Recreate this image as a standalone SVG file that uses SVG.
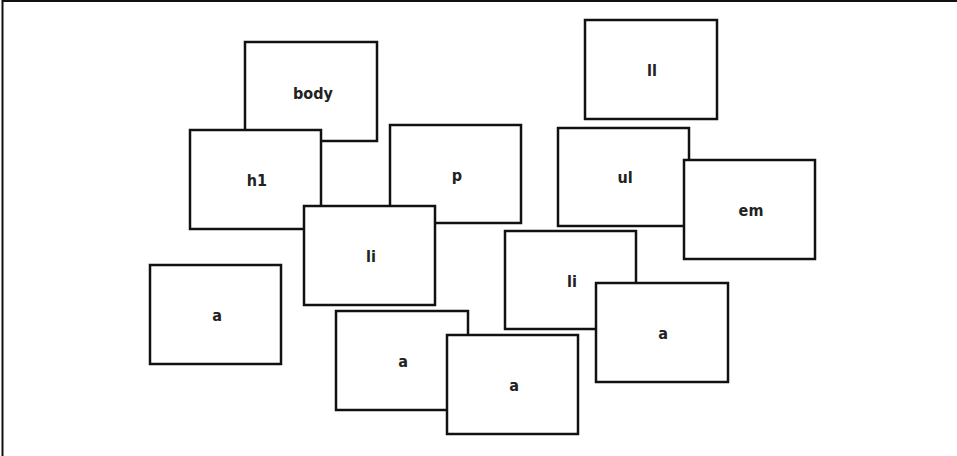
<svg xmlns="http://www.w3.org/2000/svg" width="957" height="456" viewBox="0 0 957 456">
<style>
.b{fill:#fff;stroke:#111;stroke-width:2.5}
.t{font-family:"DejaVu Sans Condensed","DejaVu Sans",sans-serif;font-stretch:condensed;font-weight:bold;font-size:16px;fill:#222;text-anchor:middle}
</style>
<rect width="957" height="456" fill="#fff"/>
<g id="frame"><path d="M2.5,456 V1 H957" fill="none" stroke="#111" stroke-width="2"/></g>
<g id="connectors"></g>
<g id="body"><rect class="b" x="245" y="42" width="132" height="99"/><text class="t" x="313" y="99">body</text></g>
<g id="h1"><rect class="b" x="190" y="130" width="131" height="99"/><text class="t" x="257" y="186">h1</text></g>
<g id="p"><rect class="b" x="390" y="125" width="131" height="98"/><text class="t" x="457" y="181">p</text></g>
<g id="li1"><rect class="b" x="304" y="206" width="131" height="99"/><text class="t" x="371" y="262">li</text></g>
<g id="ll"><rect class="b" x="585" y="20" width="132" height="99"/><text class="t" x="652" y="76">ll</text></g>
<g id="ul"><rect class="b" x="558" y="128" width="131" height="98"/><text class="t" x="625" y="183">ul</text></g>
<g id="em"><rect class="b" x="684" y="160" width="131" height="99"/><text class="t" x="751" y="216">em</text></g>
<g id="li2"><rect class="b" x="505" y="231" width="131" height="98"/><text class="t" x="572" y="287">li</text></g>
<g id="a1"><rect class="b" x="596" y="283" width="132" height="99"/><text class="t" x="663" y="339">a</text></g>
<g id="a2"><rect class="b" x="150" y="265" width="131" height="99"/><text class="t" x="217" y="321">a</text></g>
<g id="a3"><rect class="b" x="336" y="311" width="132" height="99"/><text class="t" x="403" y="367">a</text></g>
<g id="a4"><rect class="b" x="447" y="335" width="131" height="99"/><text class="t" x="514" y="391">a</text></g>
</svg>
